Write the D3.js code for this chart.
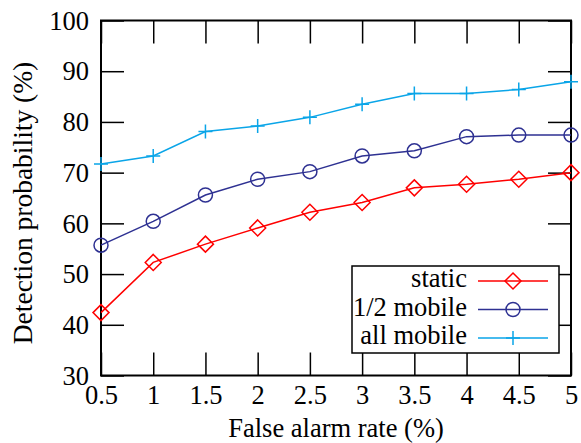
<!DOCTYPE html>
<html>
<head>
<meta charset="utf-8">
<script src="https://cdn.jsdelivr.net/npm/d3@7"></script>
<style>
  body { margin: 0; background: #fff; }
  svg text { font-family: "Liberation Serif", "Times New Roman", Tinos, "DejaVu Serif", serif !important; fill: #000; }
</style>
</head>
<body>
<svg id="chart"></svg>
<script>
let alarmRate = [0.5, 1, 1.5, 2, 2.5, 3, 3.5, 4, 4.5, 5];
let staticVals = [42.4, 52.3, 55.9, 59.1, 62.2, 64.1, 67.0, 67.7, 68.7, 70.0];
let halfMobile = [55.7, 60.4, 65.6, 68.7, 70.2, 73.3, 74.3, 77.1, 77.4, 77.4];
let allMobile = [71.7, 73.3, 78.1, 79.2, 80.9, 83.5, 85.6, 85.6, 86.4, 87.9];
let yTicks = [30, 40, 50, 60, 70, 80, 90, 100];

let series = [
    { name: "static", values: staticVals, color: "#ff0000", marker: "diamond" },
    { name: "1/2 mobile", values: halfMobile, color: "#2e3192", marker: "circle" },
    { name: "all mobile", values: allMobile, color: "#0aa5e8", marker: "plus" }
];

function drawMarker(g, type, color) {
    if (type === "diamond") {
        g.append("path").attr("d", "M0,-8L8,0L0,8L-8,0Z")
            .attr("fill", "none").attr("stroke", color).attr("stroke-width", 1.5);
    } else if (type === "circle") {
        g.append("circle").attr("r", 7)
            .attr("fill", "none").attr("stroke", color).attr("stroke-width", 1.5);
    } else {
        g.append("path").attr("d", "M-7,0H7M0,-7V7")
            .attr("stroke", color).attr("stroke-width", 1.5);
    }
}

function makeChart() {
    let w = 581;
    let h = 443;
    let m = { left: 101, right: 571, top: 20.5, bottom: 375.5 };
    let tick = 23;
    let fs = "26.5px";

    let svg = d3.select("#chart").attr("width", w).attr("height", h);

    let xScale = d3.scaleLinear().domain([0.5, 5]).range([m.left, m.right]);
    let yScale = d3.scaleLinear().domain([30, 100]).range([m.bottom, m.top]);

    // axes with inward ticks, mirrored on top and right
    let bottom = svg.append("g").attr("transform", `translate(0,${m.bottom})`)
        .call(d3.axisBottom(xScale).tickValues(alarmRate).tickSize(-tick).tickPadding(10)
            .tickFormat(d3.format("")));
    let top = svg.append("g").attr("transform", `translate(0,${m.top})`)
        .call(d3.axisTop(xScale).tickValues(alarmRate).tickSize(-tick).tickFormat(""));
    let left = svg.append("g").attr("transform", `translate(${m.left},0)`)
        .call(d3.axisLeft(yScale).tickValues(yTicks).tickSize(-tick).tickPadding(12));
    let right = svg.append("g").attr("transform", `translate(${m.right},0)`)
        .call(d3.axisRight(yScale).tickValues(yTicks).tickSize(-tick).tickFormat(""));

    [bottom, top, left, right].forEach(a => {
        a.select(".domain").remove();
        a.selectAll("line").attr("stroke", "#000").attr("stroke-width", 1.5);
        a.selectAll("text").style("font-size", fs);
    });
    left.selectAll("text").attr("dy", "0.33em");

    svg.append("rect")
        .attr("x", m.left).attr("y", m.top)
        .attr("width", m.right - m.left).attr("height", m.bottom - m.top)
        .attr("fill", "none").attr("stroke", "#000").attr("stroke-width", 2);

    let line = d3.line().x((d, i) => xScale(alarmRate[i])).y(d => yScale(d));

    series.forEach(s => {
        svg.append("path").datum(s.values)
            .attr("d", line)
            .attr("fill", "none").attr("stroke", s.color).attr("stroke-width", 1.5);
        s.values.forEach((v, i) => {
            let g = svg.append("g").attr("transform", `translate(${xScale(alarmRate[i])},${yScale(v)})`);
            drawMarker(g, s.marker, s.color);
        });
    });

    // legend
    let lg = svg.append("g");
    lg.append("rect").attr("x", 352).attr("y", 266).attr("width", 207).attr("height", 87)
        .attr("fill", "#fff").attr("stroke", "#000").attr("stroke-width", 1.5);
    series.forEach((s, i) => {
        let y = 281 + i * 28.5;
        lg.append("text").attr("x", 467).attr("y", y + 6)
            .attr("text-anchor", "end").style("font-size", fs).text(s.name);
        lg.append("line").attr("x1", 478).attr("x2", 548).attr("y1", y).attr("y2", y)
            .attr("stroke", s.color).attr("stroke-width", 1.5);
        drawMarker(lg.append("g").attr("transform", `translate(513,${y})`), s.marker, s.color);
    });

    // axis titles
    svg.append("text").attr("x", 336).attr("y", 436.5)
        .attr("text-anchor", "middle").style("font-size", fs).text("False alarm rate (%)");
    svg.append("text").attr("transform", "translate(32,203) rotate(-90)")
        .attr("text-anchor", "middle").style("font-size", "27.5px").text("Detection probability (%)");
}

makeChart();
</script>
</body>
</html>
